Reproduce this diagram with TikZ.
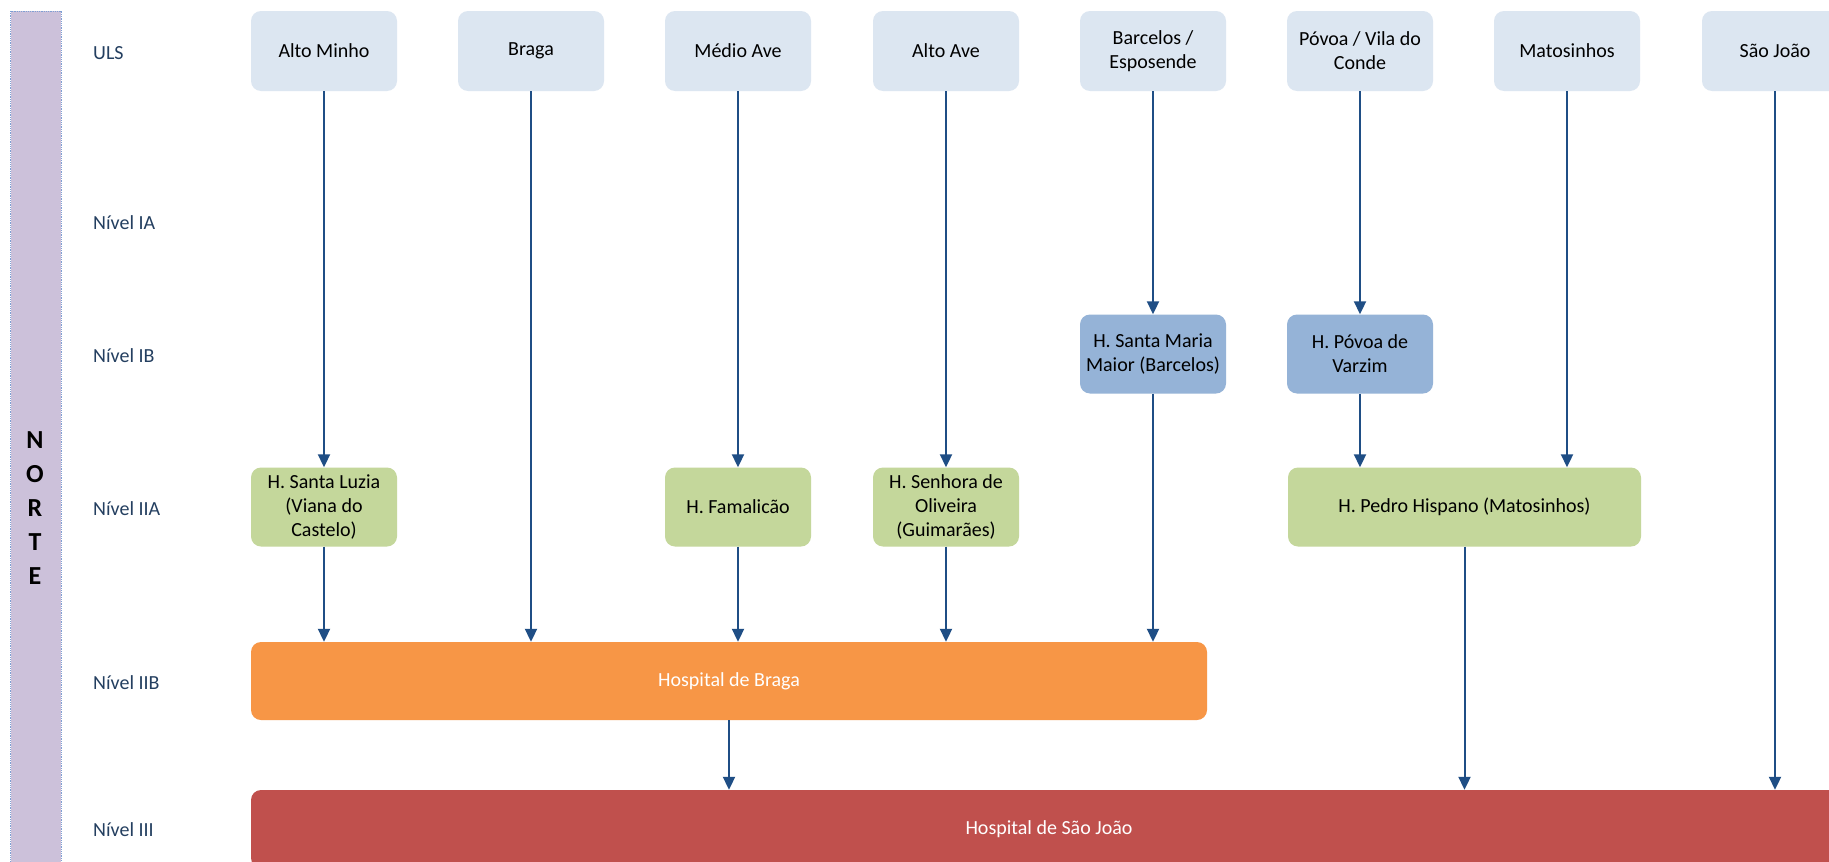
\documentclass[tikz,border=0pt]{standalone}
\usepackage{fontspec}
\setmainfont{Carlito}
\usetikzlibrary{arrows.meta}
\definecolor{ulsfill}{HTML}{DCE6F1}
\definecolor{ibfill}{HTML}{95B3D7}
\definecolor{iiafill}{HTML}{C4D79B}
\definecolor{iibfill}{HTML}{F79646}
\definecolor{iiifill}{HTML}{C0504D}
\definecolor{barfill}{HTML}{CCC1DA}
\definecolor{barline}{HTML}{7F9FD3}
\definecolor{lvlcol}{HTML}{243F60}
\definecolor{arrcol}{HTML}{1F4E85}
\begin{document}
\begin{tikzpicture}[x=1pt,y=-1pt,
  box/.style={rectangle, rounded corners=10pt, inner sep=0pt, align=center,
    font=\fontsize{20}{24}\selectfont, text=black, minimum height=79pt},
  ulsbox/.style={box, fill=ulsfill, minimum width=146pt, minimum height=80pt},
  ibbox/.style={box, fill=ibfill, minimum width=146pt},
  iiabox/.style={box, fill=iiafill, minimum width=146pt},
  bigbox/.style={box, text=white, minimum height=78pt},
  lvl/.style={anchor=west, inner sep=0pt, text=lvlcol, font=\fontsize{20}{24}\selectfont},
  arr/.style={draw=arrcol, line width=2pt, -{Triangle[length=13pt,width=12pt]}}
]
\useasboundingbox (0,0) rectangle (1829,862);
\clip (0,0) rectangle (1829,862);
\fill[white] (0,0) rectangle (1829,862);

% left bar
\draw[fill=barfill, draw=barline, densely dotted, line width=0.8pt] (10.5,11) rectangle (61,875);
\node[inner sep=0pt, align=center, font=\fontsize{26}{34}\selectfont\bfseries] (norte) at (35,508) {N\\O\\R\\T\\E};

% level labels
\node[lvl] (lULS) at (93,53) {ULS};
\node[lvl] (lIA) at (93,223) {Nível IA};
\node[lvl] (lIB) at (93,356) {Nível IB};
\node[lvl] (lIIA) at (93,509) {Nível IIA};
\node[lvl] (lIIB) at (93,683) {Nível IIB};
\node[lvl] (lIII) at (93,830) {Nível III};

% ULS boxes
\node[ulsbox] (am) at (324,51) {Alto Minho};
\node[ulsbox] (br) at (531,51) {Braga};
\node[ulsbox] (ma) at (738,51) {Médio Ave};
\node[ulsbox] (aa) at (946,51) {Alto Ave};
\node[ulsbox] (be) at (1153,51) {Barcelos /\\Esposende};
\node[ulsbox] (pv) at (1360,51) {Póvoa / Vila do\\Conde};
\node[ulsbox] (mt) at (1567,51) {Matosinhos};
\node[ulsbox] (sj) at (1775,51) {São João};

% Nivel IB
\node[ibbox] (smb) at (1153,354) {H. Santa Maria\\Maior (Barcelos)};
\node[ibbox] (hpv) at (1360,354) {H. Póvoa de\\Varzim};

% Nivel IIA
\node[iiabox] (sl) at (324,507) {H. Santa Luzia\\(Viana do\\Castelo)};
\node[iiabox] (fam) at (738,507) {H. Famalicão};
\node[iiabox] (so) at (946,507) {H. Senhora de\\Oliveira\\(Guimarães)};
\node[iiabox, minimum width=353pt] (hp) at (1464.5,507) {H. Pedro Hispano (Matosinhos)};

% Nivel IIB
\node[bigbox, fill=iibfill, minimum width=956pt] (hb) at (729,681) {Hospital de Braga};

% Nivel III
\node[bigbox, fill=iiifill, minimum width=1596pt] (hsj) at (1049,829) {Hospital de São João};

% connectors
\draw[arr] (am) -- (sl);
\draw[arr] (sl) -- (sl |- hb.north);
\draw[arr] (br) -- (br |- hb.north);
\draw[arr] (ma) -- (fam);
\draw[arr] (fam) -- (fam |- hb.north);
\draw[arr] (aa) -- (so);
\draw[arr] (so) -- (so |- hb.north);
\draw[arr] (be) -- (smb);
\draw[arr] (smb) -- (smb |- hb.north);
\draw[arr] (pv) -- (hpv);
\draw[arr] (hpv) -- (hpv |- hp.north);
\draw[arr] (mt) -- (mt |- hp.north);
\draw[arr] (hb) -- (hb |- hsj.north);
\draw[arr] (hp) -- (hp |- hsj.north);
\draw[arr] (sj) -- (sj |- hsj.north);
\end{tikzpicture}
\end{document}
